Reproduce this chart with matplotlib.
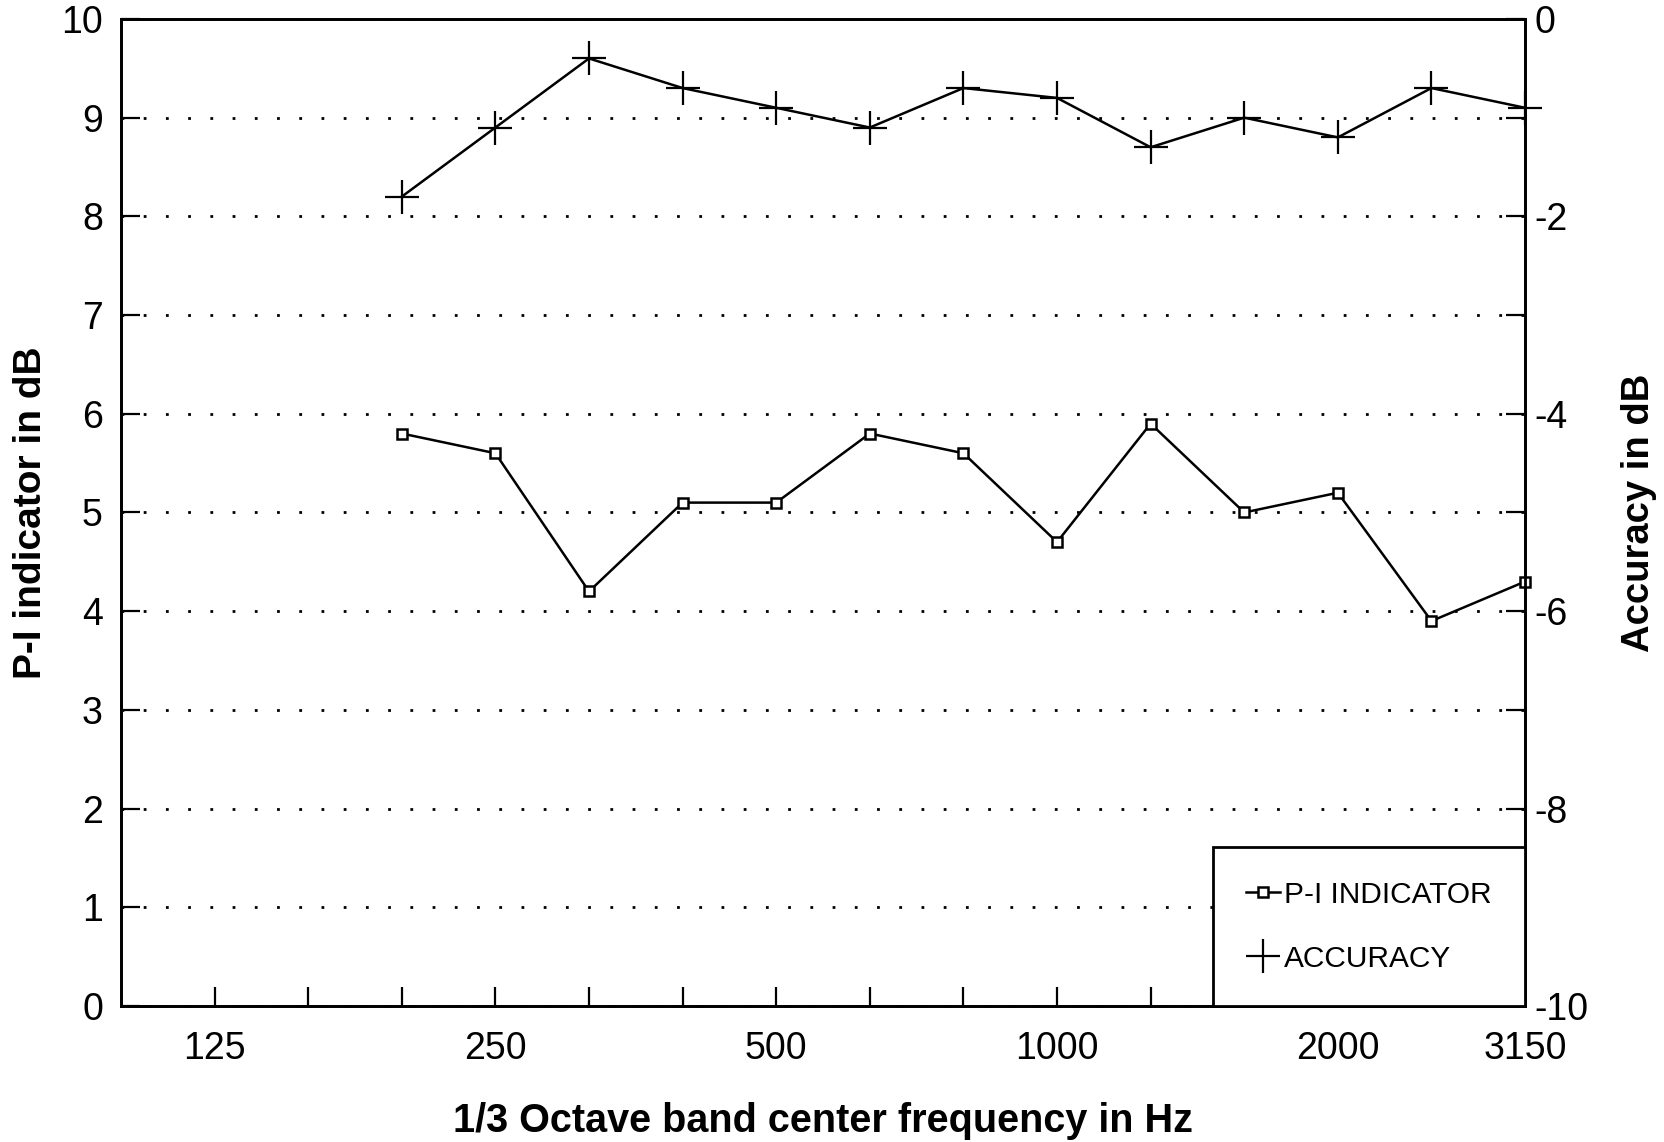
import matplotlib
matplotlib.use("Agg")
import matplotlib.pyplot as plt
from matplotlib.lines import Line2D

plt.rcParams["font.family"] = ["Liberation Sans", "DejaVu Sans"]
plt.rcParams["axes.unicode_minus"] = False

# 1/3 octave band centres shown on the x axis (100 Hz sits on the left spine)
bands = ["100", "125", "160", "200", "250", "315", "400", "500",
         "630", "800", "1000", "1250", "1600", "2000", "2500", "3150"]
labelled_bands = ["125", "250", "500", "1000", "2000", "3150"]

# measured bands
meas_bands = ["200", "250", "315", "400", "500", "630", "800",
              "1000", "1250", "1600", "2000", "2500", "3150"]
pi_indicator = [5.8, 5.6, 4.2, 5.1, 5.1, 5.8, 5.6, 4.7, 5.9, 5.0, 5.2, 3.9, 4.3]
accuracy = [-1.8, -1.1, -0.4, -0.7, -0.9, -1.1, -0.7, -0.8, -1.3, -1.0, -1.2, -0.7, -0.9]

x_meas = [bands.index(b) for b in meas_bands]

fig = plt.figure(figsize=(16.64, 11.42), dpi=100)
ax = fig.add_axes([0.0727, 0.1191, 0.8438, 0.8643])
ax2 = ax.twinx()

ax.plot(x_meas, pi_indicator, color="black", lw=1.8, marker="s", ms=6.5,
        mfc="white", mec="black", mew=1.8, clip_on=False, zorder=3)
ax2.plot(x_meas, accuracy, color="black", lw=1.8, marker="+", ms=25,
         mew=1.6, clip_on=False, zorder=3)

ax.set_xlim(0, len(bands) - 1)
ax.set_ylim(0, 10)
ax2.set_ylim(-10, 0)

ax.set_xticks([bands.index(b) for b in labelled_bands])
ax.set_xticklabels(labelled_bands)
ax.set_xticks(range(1, len(bands) - 1), minor=True)
ax.set_yticks(range(0, 11))
ax2.set_yticks(range(-10, 1, 2))
ax2.set_yticks(range(-9, 0, 2), minor=True)

ax.tick_params(axis="x", which="both", direction="in", length=14, width=1.6,
               labelsize=27, pad=18)
ax.tick_params(axis="y", which="both", direction="in", length=14, width=1.6,
               labelsize=27, pad=13)
ax2.tick_params(axis="y", which="both", direction="in", length=14, width=1.6,
                labelsize=27, pad=7)

ax.grid(axis="y", color="black", lw=2, linestyle=(0, (1, 7)))
ax.set_axisbelow(True)

for a in (ax, ax2):
    for s in a.spines.values():
        s.set_linewidth(2.0)

ax.set_xlabel("1/3 Octave band center frequency in Hz", fontsize=28.5,
              fontweight="bold", va="center")
ax.xaxis.set_label_coords(0.5, -0.1165)
ax.set_ylabel("P-I indicator in dB", fontsize=28, fontweight="bold", va="center")
ax.yaxis.set_label_coords(-0.064, 0.50)
ax2.set_ylabel("Accuracy in dB", fontsize=27.5, fontweight="bold", va="center",
               rotation=90)
ax2.yaxis.set_label_coords(1.081, 0.50)

handles = [
    Line2D([], [], color="black", lw=1.8, marker="s", ms=6.5, mfc="white",
           mec="black", mew=1.8),
    Line2D([], [], color="black", lw=0, marker="+", ms=25, mew=1.6),
]
leg = ax2.legend(handles, ["P-I INDICATOR", "ACCURACY"], loc="lower right",
                 bbox_to_anchor=(1.0, 0.0), borderaxespad=0, fontsize=21.5,
                 frameon=True, fancybox=False, framealpha=1, edgecolor="black",
                 borderpad=1.12, labelspacing=1.2, handlelength=1.15,
                 handletextpad=0.12)
leg.get_frame().set_linewidth(2.0)

fig.savefig("out.png", dpi=100)
